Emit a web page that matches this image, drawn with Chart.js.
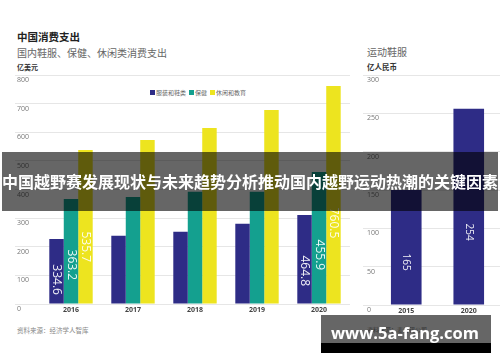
<!DOCTYPE html>
<html lang="zh-CN">
<head>
<meta charset="UTF-8">
<title>中国消费支出</title>
<script src="https://cdn.jsdelivr.net/npm/chart.js"></script>
<style>
  html,body{margin:0;padding:0;background:#fff;}
  body{width:500px;height:362px;position:relative;overflow:hidden;font-family:"Noto Sans CJK SC","Noto Sans",sans-serif;}
  .t{position:absolute;white-space:nowrap;line-height:1;}
  canvas{position:absolute;}
  #legend{position:absolute;left:150px;top:90px;font-size:6px;color:#666;line-height:6px;white-space:nowrap;}
  #legend span.sw{display:inline-block;width:5px;height:5px;margin-right:1px;vertical-align:top;}
  #legend span.it{margin-right:3px;}
  #banner{position:absolute;left:2px;top:152px;width:496px;height:59px;background:rgba(0,0,0,0.6);
    color:#fff;font-weight:bold;font-size:16px;line-height:59px;text-align:center;white-space:nowrap;z-index:5;}
  #wm{position:absolute;left:321px;top:315px;width:170px;height:28px;background:rgba(0,0,0,0.6);z-index:5;}
  #wmb{position:absolute;left:321px;top:343px;width:170px;height:10px;background:#000;z-index:5;}
  #wmt{position:absolute;left:331px;top:325px;font-family:"Open Sans",sans-serif;font-weight:bold;font-size:16.5px;color:#fff;line-height:1;z-index:6;white-space:nowrap;}
</style>
</head>
<body>

<div class="t" style="left:17px;top:32px;font-size:10.5px;font-weight:bold;color:#222">中国消费支出</div>
<div class="t" style="left:17px;top:48px;font-size:10px;color:#666">国内鞋服、保健、休闲类消费支出</div>
<div class="t" style="left:17px;top:64px;font-size:7px;font-weight:bold;color:#333">亿美元</div>
<div class="t" style="left:367px;top:47px;font-size:10px;color:#666">运动鞋服</div>
<div class="t" style="left:367px;top:63px;font-size:7.5px;font-weight:bold;color:#333">亿人民币</div>
<div class="t" style="left:17px;top:327px;font-size:6.5px;color:#888">资料来源：经济学人智库</div>
<div class="t" style="left:367px;top:327px;font-size:6px;color:#888">资料来源：麦肯锡公司</div>

<div id="legend"></div>

<canvas id="spend" width="335" height="245" style="left:15px;top:75px"></canvas>
<canvas id="sport" width="137" height="246" style="left:363px;top:75px"></canvas>

<div id="banner">中国越野赛发展现状与未来趋势分析推动国内越野运动热潮的关键因素</div>
<div id="wm"></div><div id="wmb"></div>
<div id="wmt">www.5a-fang.com</div>

<script>
// 左图：国内消费支出（亿美元）
const years = ['2016', '2017', '2018', '2019', '2020'];
const seriesNames = ['服装和鞋类', '保健', '休闲和教育'];
const apparel = [227, 238, 252, 280, 311];
const health = [367, 374, 392, 392, 461];
const leisure = [538, 573, 615, 678, 762];
const apparelLabels = ['334.6', null, null, null, '464.8'];
const healthLabels = ['363.2', null, null, null, '455.9'];
const leisureLabels = ['535.7', null, null, null, '760.5'];
const spendMax = 800, spendStep = 100;

// 右图：运动鞋服（亿人民币）
const sportYears = ['2015', '2020'];
const sportwear = [150, 256];
const sportLabels = ['165', '254'];
const sportMax = 300, sportStep = 50;

const BLUE = '#2e2c86', TEAL = '#14a08f', YELLOW = '#ede41f';
const colors = [BLUE, TEAL, YELLOW];
const F = '"Open Sans","Noto Sans CJK SC",sans-serif';

// 图例
document.getElementById('legend').innerHTML = seriesNames.map((n, i) =>
  `<span class="sw" style="background:${colors[i]}"></span><span class="it">${n}</span>`).join('');

// 柱内竖排数值
const barText = {
  id: 'barText',
  afterDatasetsDraw(chart, args, opts) {
    const ctx = chart.ctx;
    chart.data.datasets.forEach((ds, i) => {
      chart.getDatasetMeta(i).data.forEach((bar, j) => {
        const t = ds.valueLabels && ds.valueLabels[j];
        if (!t) return;
        const y = bar.y + (bar.base - bar.y) * 0.63;
        ctx.save();
        ctx.translate(bar.x, y);
        ctx.rotate(Math.PI / 2);
        ctx.font = `${opts.size || 12}px ${F}`;
        ctx.fillStyle = 'rgba(255,255,255,0.92)';
        ctx.textAlign = 'center';
        ctx.textBaseline = 'middle';
        ctx.fillText(t, 0, 0);
        ctx.restore();
      });
    });
  }
};

// y轴刻度文字：写在网格线下方、靠左
const yText = {
  id: 'yText',
  afterDraw(chart, args, opts) {
    const s = chart.scales.y, ctx = chart.ctx;
    ctx.save();
    ctx.font = `7px ${F}`;
    ctx.fillStyle = '#777';
    ctx.textAlign = 'left';
    ctx.textBaseline = 'middle';
    s.ticks.forEach(t => {
      ctx.fillText(String(t.value), s.left + (opts.x || 0), s.getPixelForValue(t.value) + 5);
    });
    ctx.restore();
  }
};

const xAxis = {
  grid: { display: false, drawTicks: false },
  border: { display: false },
  ticks: { padding: 2, color: '#444', font: { size: 7, weight: 'bold', family: F } },
  afterFit(s) { s.height = 16; }
};

function yAxis(max, step, w) {
  return {
    min: 0, max: max,
    border: { display: false },
    grid: { color: '#e6e6e6', drawTicks: true, tickLength: w },
    ticks: { stepSize: step, display: false },
    afterFit(s) { s.width = w; }
  };
}

new Chart(document.getElementById('spend'), {
  type: 'bar',
  data: {
    labels: years,
    datasets: [
      { label: seriesNames[0], data: apparel, backgroundColor: BLUE, valueLabels: apparelLabels },
      { label: seriesNames[1], data: health, backgroundColor: TEAL, valueLabels: healthLabels },
      { label: seriesNames[2], data: leisure, backgroundColor: YELLOW, valueLabels: leisureLabels }
    ]
  },
  options: {
    responsive: false, animation: false,
    datasets: { bar: { categoryPercentage: 0.7, barPercentage: 1 } },
    plugins: { legend: { display: false }, tooltip: { enabled: false }, barText: { size: 12 }, yText: { x: 2 } },
    scales: { x: xAxis, y: yAxis(spendMax, spendStep, 25) }
  },
  plugins: [barText, yText]
});

new Chart(document.getElementById('sport'), {
  type: 'bar',
  data: {
    labels: sportYears,
    datasets: [{ label: '运动鞋服', data: sportwear, backgroundColor: BLUE, valueLabels: sportLabels }]
  },
  options: {
    responsive: false, animation: false,
    datasets: { bar: { categoryPercentage: 1, barPercentage: 0.49 } },
    plugins: { legend: { display: false }, tooltip: { enabled: false }, barText: { size: 10 }, yText: { x: 4 } },
    scales: { x: xAxis, y: yAxis(sportMax, sportStep, 12) }
  },
  plugins: [barText, yText]
});
</script>
</body>
</html>
